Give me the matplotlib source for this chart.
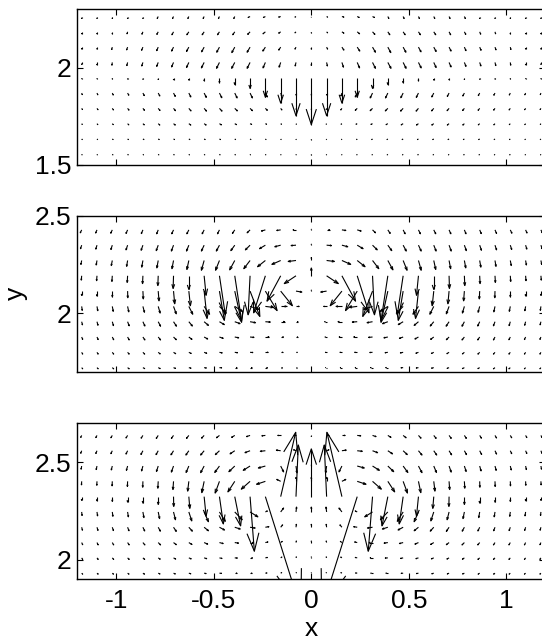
import matplotlib
matplotlib.use('Agg')
import matplotlib.pyplot as plt
import numpy as np
from matplotlib.collections import LineCollection

plt.rcParams['font.family'] = ['Liberation Sans', 'DejaVu Sans']
plt.rcParams['axes.unicode_minus'] = False

# grid columns (shared) and rows for each panel, top row first
x_cols = [-1.1775, -1.099, -1.0205, -0.942, -0.8635, -0.785, -0.7065, -0.628, -0.5495, -0.471,
          -0.3925, -0.314, -0.2355, -0.157, -0.0785, 0.0, 0.0785, 0.157, 0.2355, 0.314,
          0.3925, 0.471, 0.5495, 0.628, 0.7065, 0.785, 0.8635, 0.942, 1.0205, 1.099, 1.1775]
top_y = [2.2615, 2.183, 2.1045, 2.026, 1.9475, 1.869, 1.7905, 1.712, 1.6335, 1.555]
mid_y = [2.4265, 2.348, 2.2695, 2.191, 2.1125, 2.034, 1.9555, 1.877, 1.7985, 1.72]
bot_y = [2.6365, 2.558, 2.4795, 2.401, 2.3225, 2.244, 2.1655, 2.087, 2.0085, 1.93]

# arrow components, in hundredths of an axis unit
top_u = [
    [0,0,0,0,0,-.5,-.5,-.5,-.5,-.5,-.5,-1,-1,-1,-.5,0,.5,1,1,1,.5,.5,.5,.5,.5,.5,0,0,0,0,0],
    [0,0,0,-.3,-.5,-.7,-.8,-1,-1,-1,-1,-1.2,-1.2,-1,-.5,0,.5,1,1.2,1.2,1,1,1,1,.8,.7,.5,.3,0,0,0],
    [0,0,-.3,-.5,-.7,-.8,-1,-1.2,-1.3,-1.4,-1.5,-1.5,-1.3,-1,-.5,0,.5,1,1.3,1.5,1.5,1.4,1.3,1.2,1,.8,.7,.5,.3,0,0],
    [0,0,-.2,-.4,-.6,-.8,-1,-1.2,-1.4,-1.5,-1.6,-1.5,-1.2,-.8,-.4,0,.4,.8,1.2,1.5,1.6,1.5,1.4,1.2,1,.8,.6,.4,.2,0,0],
    [0,0,0,0,0,0,0,0,0,0,0,0,0,0,0,0,0,0,0,0,0,0,0,0,0,0,0,0,0,0,0],
    [.3,.4,.5,.6,.7,.8,.9,1,1.1,1.2,1.2,1.2,1,.5,0,0,0,-.5,-1,-1.2,-1.2,-1.2,-1.1,-1,-.9,-.8,-.7,-.6,-.5,-.4,-.3],
    [.4,.5,.6,.7,.8,.9,1,1.1,1.2,1.3,1.3,1.2,1,.6,.2,0,-.2,-.6,-1,-1.2,-1.3,-1.3,-1.2,-1.1,-1,-.9,-.8,-.7,-.6,-.5,-.4],
    [.3,.4,.5,.6,.7,.8,.9,1,1,1,.9,.8,.6,.4,.2,0,-.2,-.4,-.6,-.8,-.9,-1,-1,-1,-.9,-.8,-.7,-.6,-.5,-.4,-.3],
    [.3,.3,.4,.4,.5,.5,.5,.5,.5,.5,.4,.4,.3,.2,.1,0,-.1,-.2,-.3,-.4,-.4,-.5,-.5,-.5,-.5,-.5,-.5,-.4,-.4,-.3,-.3],
    [.2,.2,.3,.3,.3,.3,.3,.3,.3,.3,.3,.2,.2,.1,.1,0,-.1,-.1,-.2,-.2,-.3,-.3,-.3,-.3,-.3,-.3,-.3,-.3,-.3,-.2,-.2],
]
top_v = [
    [-1,-1,-1,-1,-1,-1,-1,-1,-1,-1,-1,-.5,-.5,-.3,-.3,-.3,-.3,-.3,-.5,-.5,-1,-1,-1,-1,-1,-1,-1,-1,-1,-1,-1],
    [-1,-1,-1,-1,-1.2,-1.3,-1.5,-1.5,-1.5,-1.5,-1.5,-1.3,-1,-.7,-.5,-.5,-.5,-.7,-1,-1.3,-1.5,-1.5,-1.5,-1.5,-1.5,-1.3,-1.2,-1,-1,-1,-1],
    [-1,-1,-1.2,-1.4,-1.6,-1.8,-2,-2.2,-2.4,-2.6,-2.8,-2.6,-2,-1.5,-1,-1,-1,-1.5,-2,-2.6,-2.8,-2.6,-2.4,-2.2,-2,-1.8,-1.6,-1.4,-1.2,-1,-1],
    [-1,-1.2,-1.4,-1.6,-1.8,-2,-2.3,-2.6,-2.8,-3,-3,-3,-2.8,-2.4,-1.8,-1.5,-1.8,-2.4,-2.8,-3,-3,-3,-2.8,-2.6,-2.3,-2,-1.8,-1.6,-1.4,-1.2,-1],
    [-.5,-.5,-.6,-.7,-.8,-.9,-1,-1.2,-1.5,-2.5,-3.5,-5.5,-10,-13,-19.5,-24,-19.5,-13,-10,-5.5,-3.5,-2.5,-1.5,-1.2,-1,-.9,-.8,-.7,-.6,-.5,-.5],
    [-.8,-.9,-1,-1.1,-1.3,-1.5,-1.7,-2,-2.2,-2.4,-2.5,-2.5,-2,-1.5,-1,-1,-1,-1.5,-2,-2.5,-2.5,-2.4,-2.2,-2,-1.7,-1.5,-1.3,-1.1,-1,-.9,-.8],
    [-.6,-.7,-.8,-.9,-1,-1.1,-1.2,-1.3,-1.4,-1.4,-1.3,-1.2,-1,-.8,-.6,-.5,-.6,-.8,-1,-1.2,-1.3,-1.4,-1.4,-1.3,-1.2,-1.1,-1,-.9,-.8,-.7,-.6],
    [-.4,-.5,-.5,-.6,-.6,-.7,-.7,-.7,-.7,-.6,-.5,-.4,-.3,-.3,-.3,-.3,-.3,-.3,-.3,-.4,-.5,-.6,-.7,-.7,-.7,-.7,-.6,-.6,-.5,-.5,-.4],
    [-.3,-.3,-.3,-.3,-.3,-.3,-.3,-.3,-.3,-.3,-.3,-.3,-.3,-.3,-.3,-.3,-.3,-.3,-.3,-.3,-.3,-.3,-.3,-.3,-.3,-.3,-.3,-.3,-.3,-.3,-.3],
    [-.3,-.3,-.3,-.3,-.3,-.3,-.3,-.3,-.3,-.3,-.3,-.3,-.3,-.3,-.3,-.3,-.3,-.3,-.3,-.3,-.3,-.3,-.3,-.3,-.3,-.3,-.3,-.3,-.3,-.3,-.3],
]

mid_u = [
    [-.7,-.7,-.8,-.8,-.8,-.8,-.9,-1,-1,-1,-1.2,-1.5,-2,-2,-1.5,0,1.5,2,2,1.5,1.2,1,1,1,.9,.8,.8,.8,.8,.7,.7],
    [-.6,-.6,-.7,-.8,-.9,-1,-1.1,-1.2,-1.4,-1.6,-2,-2.4,-3,-3,-2.5,0,2.5,3,3,2.4,2,1.6,1.4,1.2,1.1,1,.9,.8,.7,.6,.6],
    [-.4,-.4,-.5,-.5,-.6,-.7,-.8,-1,-1.4,-2,-2.6,-3.2,-4,-4.5,-4,0,4,4.5,4,3.2,2.6,2,1.4,1,.8,.7,.6,.5,.5,.4,.4],
    [-.2,-.2,-.2,-.2,-.2,-.2,-.2,0,1,3,3.5,-1,-6,-7,-6,0,6,7,6,1,-3.5,-3,-1,0,.2,.2,.2,.2,.2,.2,.2],
    [0,0,0,.1,.2,.4,.6,.8,1.5,2.5,3.5,5,6,6,3,0,-3,-6,-6,-5,-3.5,-2.5,-1.5,-.8,-.6,-.4,-.2,-.1,0,0,0],
    [.3,.4,.5,.6,.8,1,1.4,2,2.8,3.5,4,4.5,4,3,1.5,0,-1.5,-3,-4,-4.5,-4,-3.5,-2.8,-2,-1.4,-1,-.8,-.6,-.5,-.4,-.3],
    [.4,.5,.6,.8,1,1.2,1.5,1.8,2.2,2.5,2.7,2.8,2.5,2,1,0,-1,-2,-2.5,-2.8,-2.7,-2.5,-2.2,-1.8,-1.5,-1.2,-1,-.8,-.6,-.5,-.4],
    [.5,.6,.7,.8,1,1.2,1.4,1.6,1.8,1.9,2,2,1.8,1.4,.8,0,-.8,-1.4,-1.8,-2,-2,-1.9,-1.8,-1.6,-1.4,-1.2,-1,-.8,-.7,-.6,-.5],
    [.5,.6,.7,.8,.9,1,1.1,1.2,1.3,1.4,1.4,1.4,1.3,1,.6,0,-.6,-1,-1.3,-1.4,-1.4,-1.4,-1.3,-1.2,-1.1,-1,-.9,-.8,-.7,-.6,-.5],
    [.5,.6,.7,.8,.9,1,1,1.1,1.1,1.1,1.1,1,1,.8,.5,0,-.5,-.8,-1,-1,-1.1,-1.1,-1.1,-1.1,-1,-1,-.9,-.8,-.7,-.6,-.5],
]
mid_v = [
    [-1.5,-1.6,-1.7,-1.8,-1.9,-2,-2,-2,-2,-2,-1.8,-1.5,-.6,-.3,0,.3,0,-.3,-.6,-1.5,-1.8,-2,-2,-2,-2,-2,-1.9,-1.8,-1.7,-1.6,-1.5],
    [-1.8,-2,-2.2,-2.4,-2.6,-2.8,-3,-3,-3,-3,-2.8,-2.4,-1.8,-.8,-.2,.5,-.2,-.8,-1.8,-2.4,-2.8,-3,-3,-3,-3,-2.8,-2.6,-2.4,-2.2,-2,-1.8],
    [-2,-2.3,-2.6,-3,-3.4,-3.8,-4.2,-4.6,-5,-5,-4.8,-4.2,-3.2,-2,-.5,1.5,-.5,-2,-3.2,-4.2,-4.8,-5,-5,-4.6,-4.2,-3.8,-3.4,-3,-2.6,-2.3,-2],
    [-2.2,-2.5,-2.9,-3.4,-4,-5,-6.5,-7,-10,-20,-23,-20,-19,-13,-4,4,-4,-13,-19,-20,-23,-20,-10,-7,-6.5,-5,-4,-3.4,-2.9,-2.5,-2.2],
    [-2.2,-2.5,-2.9,-3.4,-4,-5,-6.5,-7.5,-14,-15,-16,-13,-10,-7.5,-.5,.5,-.5,-7.5,-10,-13,-16,-15,-14,-7.5,-6.5,-5,-4,-3.4,-2.9,-2.5,-2.2],
    [-2,-2.2,-2.5,-2.8,-3,-3.4,-3.8,-4,-4,-3.5,-2.6,-1.5,-.5,0,0,0,0,0,-.5,-1.5,-2.6,-3.5,-4,-4,-3.8,-3.4,-3,-2.8,-2.5,-2.2,-2],
    [-1.6,-1.8,-2,-2.1,-2.2,-2.3,-2.3,-2.2,-1.9,-1.5,-1,-.5,-.2,0,0,0,0,0,-.2,-.5,-1,-1.5,-1.9,-2.2,-2.3,-2.3,-2.2,-2.1,-2,-1.8,-1.6],
    [-1.2,-1.3,-1.4,-1.5,-1.5,-1.5,-1.4,-1.2,-1,-.7,-.4,-.2,0,0,0,0,0,0,0,-.2,-.4,-.7,-1,-1.2,-1.4,-1.5,-1.5,-1.5,-1.4,-1.3,-1.2],
    [-.9,-.9,-.9,-.9,-.9,-.8,-.7,-.6,-.5,-.3,-.2,-.1,0,0,0,0,0,0,0,-.1,-.2,-.3,-.5,-.6,-.7,-.8,-.9,-.9,-.9,-.9,-.9],
    [-.6,-.6,-.6,-.6,-.5,-.5,-.4,-.3,-.2,-.1,0,0,0,0,0,0,0,0,0,0,0,-.1,-.2,-.3,-.4,-.5,-.5,-.6,-.6,-.6,-.6],
]

bot_u = [
    [-.5,-.6,-.7,-.8,-.9,-1,-1.1,-1.2,-1.3,-1.5,-1.6,-1.8,-1.8,-1.5,-1,0,1,1.5,1.8,1.8,1.6,1.5,1.3,1.2,1.1,1,.9,.8,.7,.6,.5],
    [-.5,-.6,-.7,-.8,-1,-1.1,-1.3,-1.5,-1.8,-2.1,-2.4,-2.6,-2.6,-2.2,-1.2,0,1.2,2.2,2.6,2.6,2.4,2.1,1.8,1.5,1.3,1.1,1,.8,.7,.6,.5],
    [-.3,-.4,-.5,-.6,-.7,-.9,-1.1,-1.4,-1.8,-2.4,-3,-3.5,-3.6,1.5,.5,0,-.5,-1.5,3.6,3.5,3,2.4,1.8,1.4,1.1,.9,.7,.6,.5,.4,.3],
    [-.1,-.1,-.1,-.1,-.1,-.2,-.3,-.6,-1.2,-2.2,-3.5,-4.5,-4.5,-2,0,0,0,2,4.5,4.5,3.5,2.2,1.2,.6,.3,.2,.1,.1,.1,.1,.1],
    [0,0,0,0,0,0,.1,.5,1,2,3,2.2,18.2,7.7,1.2,0,-1.2,-7.7,-18.2,-2.2,-3,-2,-1,-.5,-.1,0,0,0,0,0,0],
    [.2,.3,.3,.4,.5,.7,1,1.5,2.2,3,3.8,4,1,1.5,.3,0,-.3,-1.5,-1,-4,-3.8,-3,-2.2,-1.5,-1,-.7,-.5,-.4,-.3,-.3,-.2],
    [.4,.5,.6,.7,.9,1.1,1.4,1.8,2.2,2.6,2.8,2.6,1.8,1,.2,0,-.2,-1,-1.8,-2.6,-2.8,-2.6,-2.2,-1.8,-1.4,-1.1,-.9,-.7,-.6,-.5,-.4],
    [.5,.6,.7,.8,1,1.2,1.4,1.6,1.8,1.9,1.9,1.7,1.3,.8,.2,0,-.2,-.8,-1.3,-1.7,-1.9,-1.9,-1.8,-1.6,-1.4,-1.2,-1,-.8,-.7,-.6,-.5],
    [.5,.6,.7,.8,.9,1,1.1,1.2,1.3,1.3,1.3,1.2,1,.6,.2,0,-.2,-.6,-1,-1.2,-1.3,-1.3,-1.3,-1.2,-1.1,-1,-.9,-.8,-.7,-.6,-.5],
    [.5,.6,.6,.7,.8,.9,.9,1,1,1,1,.9,.8,.5,.2,0,-.2,-.5,-.8,-.9,-1,-1,-1,-1,-.9,-.9,-.8,-.7,-.6,-.6,-.5],
]
bot_v = [
    [-1,-1.1,-1.2,-1.3,-1.4,-1.5,-1.5,-1.5,-1.4,-1.2,-1,-.6,-.2,0,0,-.5,0,0,-.2,-.6,-1,-1.2,-1.4,-1.5,-1.5,-1.5,-1.4,-1.3,-1.2,-1.1,-1],
    [-1.3,-1.4,-1.5,-1.7,-1.9,-2,-2.1,-2.2,-2.2,-2,-1.6,-1,-.3,.3,.5,0,.5,.3,-.3,-1,-1.6,-2,-2.2,-2.2,-2.1,-2,-1.9,-1.7,-1.5,-1.4,-1.3],
    [-1.6,-1.8,-2,-2.2,-2.5,-2.8,-3.1,-3.3,-3.4,-3.3,-2.9,-2.2,-1,-3,-3.5,.5,-3.5,-3,-1,-2.2,-2.9,-3.3,-3.4,-3.3,-3.1,-2.8,-2.5,-2.2,-2,-1.8,-1.6],
    [-1.8,-2,-2.3,-2.6,-3,-3.5,-4.2,-5,-5.8,-6,-5.4,-4,-1.5,1,2,2,2,1,-1.5,-4,-5.4,-6,-5.8,-5,-4.2,-3.5,-3,-2.6,-2.3,-2,-1.8],
    [-1.9,-2.1,-2.4,-2.8,-3.3,-4,-5,-6,-10,-14,-15,-28,-57.7,33,26.5,24.5,26.5,33,-57.7,-28,-15,-14,-10,-6,-5,-4,-3.3,-2.8,-2.4,-2.1,-1.9],
    [-1.8,-2,-2.2,-2.5,-2.9,-3.4,-4,-4.6,-5,-4.8,-4,-2.5,.5,2,2.5,2.5,2.5,2,.5,-2.5,-4,-4.8,-5,-4.6,-4,-3.4,-2.9,-2.5,-2.2,-2,-1.8],
    [-1.5,-1.6,-1.7,-1.8,-1.9,-2,-2.1,-2,-1.8,-1.4,-.9,-.4,.3,1.2,1.5,1.5,1.5,1.2,.3,-.4,-.9,-1.4,-1.8,-2,-2.1,-2,-1.9,-1.8,-1.7,-1.6,-1.5],
    [-1.1,-1.2,-1.2,-1.2,-1.2,-1.2,-1.1,-1,-.8,-.5,-.3,0,.3,.6,.8,.8,.8,.6,.3,0,-.3,-.5,-.8,-1,-1.1,-1.2,-1.2,-1.2,-1.2,-1.2,-1.1],
    [-.8,-.8,-.8,-.8,-.8,-.7,-.6,-.5,-.4,-.3,-.1,0,.2,.4,.5,.5,.5,.4,.2,0,-.1,-.3,-.4,-.5,-.6,-.7,-.8,-.8,-.8,-.8,-.8],
    [-.5,-.5,-.5,-.5,-.5,-.4,-.4,-.3,-.2,-.1,0,0,.1,.3,.3,.3,.3,.3,.1,0,0,-.1,-.2,-.3,-.4,-.4,-.5,-.5,-.5,-.5,-.5],
]

x_ticks = [-1, -0.5, 0, 0.5, 1]
x_labels = ['-1', '-0.5', '0', '0.5', '1']
panels = [
    (top_y, top_u, top_v, (1.5, 2.3), [1.5, 2], ['1.5', '2']),
    (mid_y, mid_u, mid_v, (1.7, 2.5), [2, 2.5], ['2', '2.5']),
    (bot_y, bot_u, bot_v, (1.9, 2.7), [2, 2.5], ['2', '2.5']),
]
UNIT = 0.01


def arrow_lines(x, y, u, v, alpha=0.33, beta=0.33):
    # matlab style quiver: shaft plus two open head strokes
    X, Y = np.meshgrid(x, y)
    U = np.asarray(u) * UNIT
    V = np.asarray(v) * UNIT
    tx, ty = X + U, Y + V
    segs = []
    for x0, y0, x1, y1, uu, vv in zip(X.ravel(), Y.ravel(), tx.ravel(), ty.ravel(), U.ravel(), V.ravel()):
        segs.append([(x0, y0), (x1, y1)])
        segs.append([(x1 - alpha * (uu + beta * vv), y1 - alpha * (vv - beta * uu)), (x1, y1),
                     (x1 - alpha * (uu - beta * vv), y1 - alpha * (vv + beta * uu))])
    return segs


fig = plt.figure(figsize=(5.42, 6.44), dpi=100)
bottoms = [0.7438, 0.4231, 0.1009]
axes = []
for (ys, us, vs, ylim, yt, ytl), b in zip(panels, bottoms):
    ax = fig.add_axes([0.1426, b, 0.8635, 0.2422])
    ax.add_collection(LineCollection(arrow_lines(x_cols, ys, us, vs), colors='black', linewidths=0.8))
    ax.set_xlim(-1.2, 1.2)
    ax.set_ylim(*ylim)
    ax.set_xticks(x_ticks)
    ax.set_yticks(yt)
    ax.set_yticklabels(ytl)
    ax.tick_params(direction='in', top=True, right=True, length=4, width=0.8,
                   labelsize=19, pad=4)
    ax.set_xticklabels([])
    for s in ax.spines.values():
        s.set_linewidth(1.0)
    axes.append(ax)

axes[2].set_xticklabels(x_labels)
axes[2].tick_params(axis='x', pad=7)
axes[2].set_xlabel('x', fontsize=19, labelpad=3)
axes[1].set_ylabel('y', fontsize=19, labelpad=5)

fig.savefig('out.png', dpi=100)
